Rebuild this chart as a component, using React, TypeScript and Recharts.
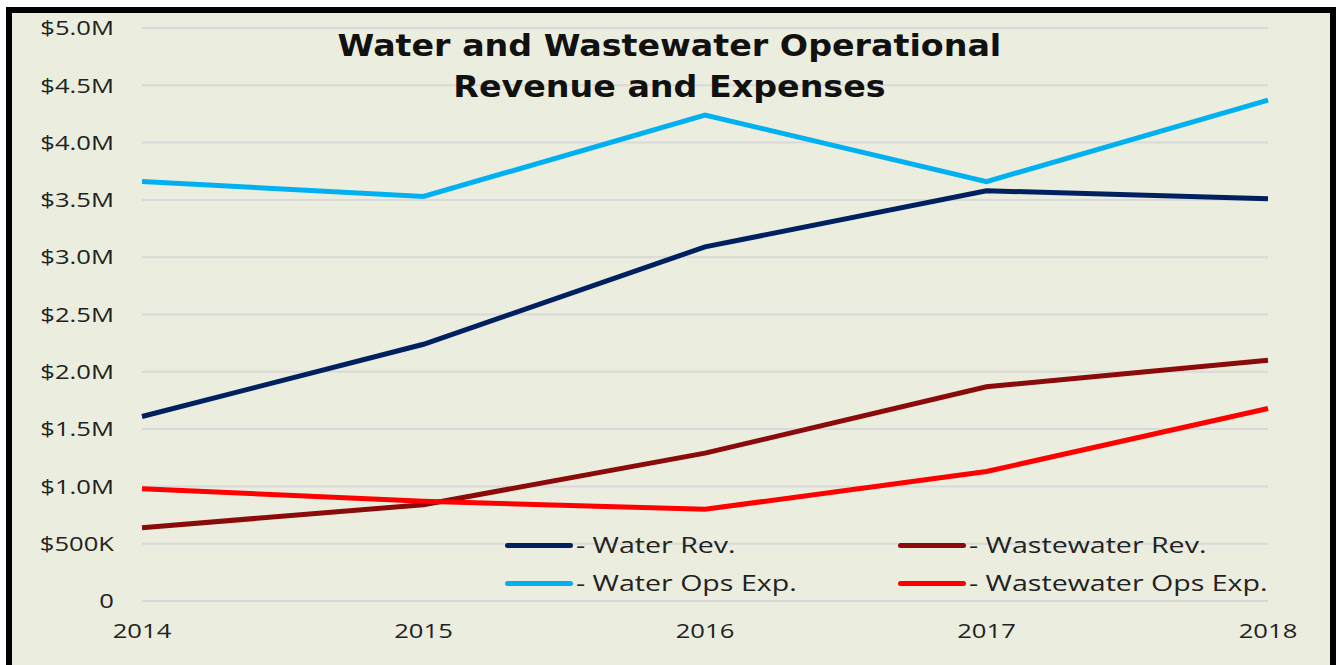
import React from 'react';
import { LineChart, Line, XAxis, YAxis, CartesianGrid } from 'recharts';

const years = ['2014', '2015', '2016', '2017', '2018'];
const waterRev = [1.61, 2.24, 3.09, 3.58, 3.51];
const wastewaterRev = [0.64, 0.84, 1.29, 1.87, 2.1];
const waterOpsExp = [3.66, 3.53, 4.24, 3.66, 4.37];
const wastewaterOpsExp = [0.98, 0.87, 0.8, 1.13, 1.68];
const yTicks = [0, 0.5, 1, 1.5, 2, 2.5, 3, 3.5, 4, 4.5, 5];

const series = [
  { key: 'waterRev', label: '- Water Rev.', color: '#002060' },
  { key: 'wastewaterRev', label: '- Wastewater Rev.', color: '#8B0A0A' },
  { key: 'waterOpsExp', label: '- Water Ops Exp.', color: '#00B0F0' },
  { key: 'wastewaterOpsExp', label: '- Wastewater Ops Exp.', color: '#FF0000' },
];

const data = years.map((year, i) => ({
  year,
  waterRev: waterRev[i] * 1e6,
  wastewaterRev: wastewaterRev[i] * 1e6,
  waterOpsExp: waterOpsExp[i] * 1e6,
  wastewaterOpsExp: wastewaterOpsExp[i] * 1e6,
}));

const fmtMoney = (v: number) => {
  if (v === 0) return '0';
  if (v < 1e6) return `$${Math.round(v / 1000)}K`;
  return `$${(v / 1e6).toFixed(1)}M`;
};

const font = '"Open Sans", sans-serif';
const stretch = 1.28;

// the reference text is wider than any installed font, so stretch it sideways
const YTick = (props: any) => {
  const { x, y, payload } = props;
  return (
    <g transform={`translate(${x},${y}) scale(${stretch},1)`}>
      <text textAnchor="end" dy="0.36em" fontFamily={font} fontSize={20} fill="#222">
        {fmtMoney(payload.value)}
      </text>
    </g>
  );
};

const XTick = (props: any) => {
  const { x, y, payload } = props;
  return (
    <g transform={`translate(${x},${y}) scale(${stretch},1)`}>
      <text textAnchor="middle" dy="0.71em" fontFamily={font} fontSize={20} fill="#222">
        {payload.value}
      </text>
    </g>
  );
};

const legendPos = [
  { left: 505, top: 545 },
  { left: 898, top: 545 },
  { left: 505, top: 583 },
  { left: 898, top: 583 },
];

const LegendBox: React.FC = () => (
  <>
    {series.map((s, i) => (
      <div
        key={s.key}
        style={{
          position: 'absolute',
          left: legendPos[i].left,
          top: legendPos[i].top - 15,
          height: 30,
          display: 'flex',
          alignItems: 'center',
          fontFamily: font,
          fontSize: 21,
          color: '#222',
          whiteSpace: 'nowrap',
        }}
      >
        <span style={{ display: 'inline-block', width: 68, height: 5, borderRadius: 3, background: s.color }} />
        <span style={{ display: 'inline-block', transform: `scaleX(${1.36})`, transformOrigin: 'left center', marginLeft: 3 }}>
          {s.label}
        </span>
      </div>
    ))}
  </>
);

export default function App() {
  return (
    <div style={{ position: 'absolute', left: 0, top: 0, width: 1339, height: 665, background: '#fff', overflow: 'hidden' }}>
      <div
        style={{
          position: 'absolute',
          left: 6,
          top: 7,
          width: 1318,
          height: 680,
          border: '6px solid #000',
          background: '#EBEEDE',
        }}
      />
      <div style={{ position: 'absolute', left: 0, top: 0 }}>
        <LineChart width={1339} height={665} data={data} margin={{ top: 28, right: 71, bottom: 24, left: 12 }}>
          <CartesianGrid vertical={false} stroke="#D9D9D9" strokeWidth={2} />
          <XAxis
            dataKey="year"
            axisLine={false}
            tickLine={false}
            tickSize={14}
            tickMargin={9}
            height={40}
            interval={0}
            tick={<XTick />}
          />
          <YAxis
            width={130}
            domain={[0, 5e6]}
            ticks={yTicks.map((t) => t * 1e6)}
            axisLine={false}
            tickLine={false}
            tickSize={20}
            tickMargin={8}
            interval={0}
            tick={<YTick />}
          />
          {series.map((s) => (
            <Line
              key={s.key}
              dataKey={s.key}
              stroke={s.color}
              strokeWidth={5}
              dot={false}
              activeDot={false}
              isAnimationActive={false}
            />
          ))}
        </LineChart>
      </div>
      <LegendBox />
      <div
        style={{
          position: 'absolute',
          left: 0,
          width: 1339,
          top: 25,
          textAlign: 'center',
          fontFamily: '"DejaVu Sans", sans-serif',
          fontWeight: 'bold',
          fontSize: 30,
          lineHeight: '41px',
          color: '#111',
          transform: 'scaleX(1.11)',
          transformOrigin: '670px 0',
        }}
      >
        Water and Wastewater Operational
        <br />
        Revenue and Expenses
      </div>
    </div>
  );
}
